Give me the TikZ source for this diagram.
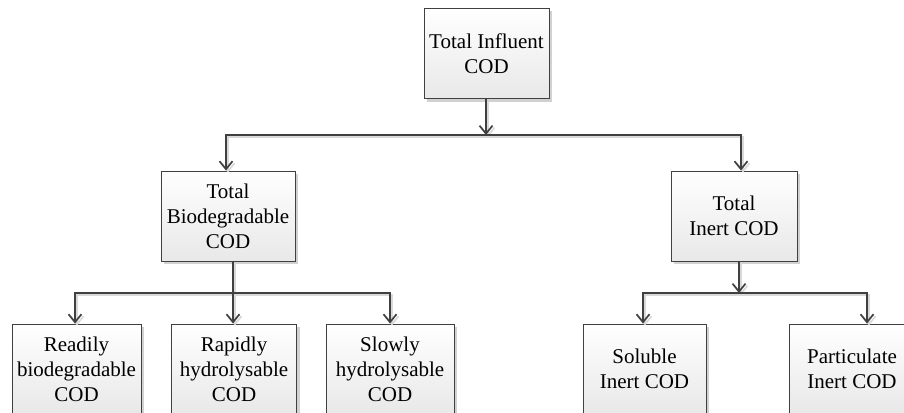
\documentclass[tikz,border=0pt]{standalone}
\usepackage{fontspec}
\setmainfont{Liberation Serif}
\usetikzlibrary{arrows.meta,shadows}
\begin{document}
\begin{tikzpicture}[x=1pt,y=-1pt,
 box/.style={draw=black!75, line width=0.9pt, top color=white, bottom color=black!9,
   minimum height=90pt, align=center, font=\fontsize{21}{25}\selectfont, inner sep=0pt,
   drop shadow={shadow xshift=3pt, shadow yshift=-3pt, fill=black!18, opacity=1}},
 conn/.style={draw=black!75, line width=1.7pt,
   preaction={draw=black!15, line width=1.7pt, transform canvas={shift={(2pt,-2pt)}}}},
 arr/.style={conn, -{Straight Barb[length=8pt,width=13pt]}}]
\fill[white] (0,0) rectangle (904,412);
\useasboundingbox (0,0) rectangle (904,412);

\node[box, minimum width=125pt] (top) at (486.5,53.5) {Total Influent\\COD};
\node[box, minimum width=134pt] (bio) at (228,216) {Total\\Biodegradable\\COD};
\node[box, minimum width=126pt] (inert) at (734,216) {Total\\Inert COD};
\node[box, minimum width=129pt] (rbd) at (76.5,369) {Readily\\biodegradable\\COD};
\node[box, minimum width=125pt] (rh) at (234,369) {Rapidly\\hydrolysable\\COD};
\node[box, minimum width=128pt] (sh) at (390,369) {Slowly\\hydrolysable\\COD};
\node[box, minimum width=123pt] (sol) at (644.5,369) {Soluble\\Inert COD};
\node[box, minimum width=126pt] (part) at (852,369) {Particulate\\Inert COD};

\coordinate (j1) at (486,135);
\coordinate (j2) at (233,293);
\coordinate (j3) at (739,293);

\draw[arr] (top.south -| j1) -- (j1);
\draw[arr] (j1) -| ([xshift=-2pt]bio.north);
\draw[arr] (j1) -| ([xshift=7pt]inert.north);

\draw[conn] (bio.south -| j2) -- (j2);
\draw[arr] (j2) -| ([xshift=-1.5pt]rbd.north);
\draw[arr] (j2) -- (rh.north -| j2);
\draw[arr] (j2) -| (sh.north);

\draw[arr] (inert.south -| j3) -- (j3);
\draw[arr] (j3) -| ([xshift=-1.5pt]sol.north);
\draw[arr] (j3) -| ([xshift=15pt]part.north);
\end{tikzpicture}
\end{document}
